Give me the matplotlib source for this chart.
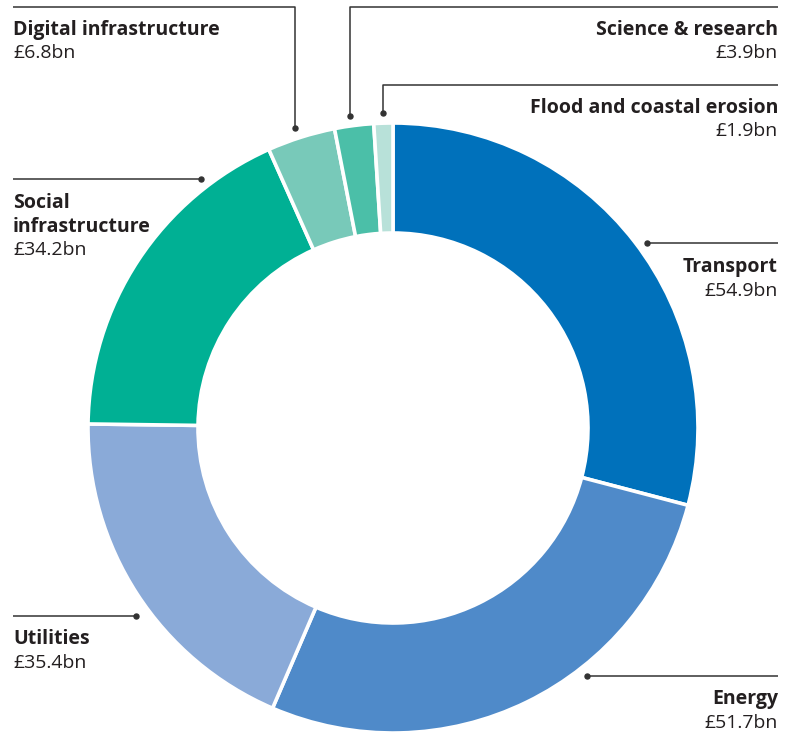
import matplotlib.pyplot as plt

# spending by sector, £bn
sectors = ["Transport", "Energy", "Utilities", "Social\ninfrastructure",
           "Digital infrastructure", "Science & research", "Flood and coastal erosion"]
values = [54.9, 51.7, 35.4, 34.2, 6.8, 3.9, 1.9]
colours = ["#0071bb", "#4f8ac9", "#8aaad8", "#00b094", "#78c9b9", "#4bbfa8", "#b8e1d9"]

W, H = 797, 732
TXT = "#231f20"
LINE = "#333333"
FS = 14
plt.rcParams['font.family'] = ['Open Sans', 'DejaVu Sans']

fig = plt.figure(figsize=(W / 100, H / 100), dpi=100)
ax = fig.add_axes([0, 0, 1, 1])

def Y(y):
    # pixel row -> data y
    return H - y

ax.pie(values, colors=colours, startangle=90, counterclock=False,
       center=(393, Y(428)), radius=305,
       wedgeprops=dict(width=110, edgecolor="white", linewidth=2.6))

def leader(pts):
    xs = [p[0] for p in pts]
    ys = [Y(p[1]) for p in pts]
    ax.plot(xs, ys, color=LINE, lw=1.1, solid_capstyle="butt")
    ax.plot(xs[-1], ys[-1], "o", color=LINE, ms=3.6)

def label(x, y, name, val, ha):
    y = y + 2
    lines = name.split("\n")
    for i, ln in enumerate(lines):
        ax.text(x, Y(y + 23.5 * i), ln, ha=ha, va="center", fontsize=FS,
                fontweight="bold", color=TXT)
    ax.text(x, Y(y + 23.5 * len(lines)), f"£{val}bn", ha=ha, va="center",
            fontsize=FS, color=TXT)

# leaders: (points from label side to slice)
leader([(13, 7), (295, 7), (295, 128)])
leader([(778, 7), (350, 7), (350, 116)])
leader([(778, 85), (383, 85), (383, 113)])
leader([(778, 243), (647, 243)])
leader([(13, 179), (201, 179)])
leader([(13, 616), (136, 616)])
leader([(778, 676), (587, 676)])

label(13, 28, sectors[4], values[4], "left")
label(778, 28, sectors[5], values[5], "right")
label(778, 106, sectors[6], values[6], "right")
label(778, 265, sectors[0], values[0], "right")
label(13, 201, sectors[3], values[3], "left")
label(13, 637, sectors[2], values[2], "left")
label(778, 697, sectors[1], values[1], "right")

ax.set_xlim(0, W)
ax.set_ylim(0, H)
ax.set_aspect("auto")
ax.set_axis_off()
fig.savefig("out.png", dpi=100)
